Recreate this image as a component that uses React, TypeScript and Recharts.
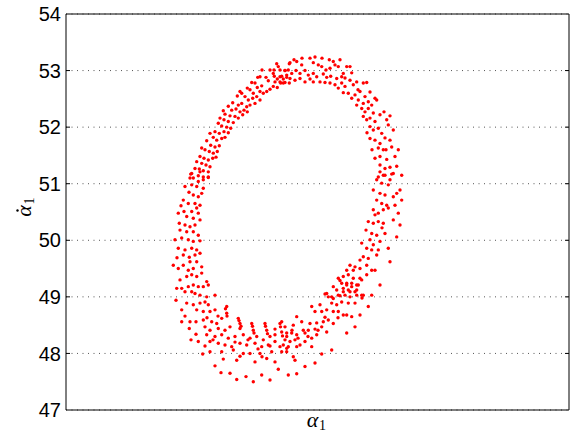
import React from 'react';
import { ScatterChart, Scatter, XAxis, YAxis, CartesianGrid, ReferenceArea, Label } from 'recharts';

const yTicks = [47, 48, 49, 50, 51, 52, 53, 54];
const xDomain: [number, number] = [0, 503];
const yDomain: [number, number] = [47, 54];

const topLeftArc: [number, number][] = [
  [210.7,53.12],[212.3,53.07],[223.3,53.12],[204,53.01],[208,53.01],[214,53.01],[219,53.00],[222.3,53.01],[194,52.89],[191.7,52.88],[200,52.88],[207.3,52.95],[208.3,52.90],[211.3,52.85],[214,52.89],[217.3,52.85],[220.7,52.88],[223.3,52.78],[219,52.79],[214.7,52.78],[209,52.80],[202.3,52.82],[185.7,52.79],[189,52.78],[181.3,52.69],[174,52.63],[175.7,52.60],[184,52.66],[187.3,52.60],[194,52.63],[197.3,52.60],[200.7,52.63],[204,52.67],[207.3,52.72],[211.3,52.70],[191.3,52.70],[195.7,52.73],[171.3,52.55],[179,52.54],[182.3,52.48],[186.7,52.51],[190.7,52.54],[194,52.48],[189,52.42],[184,52.39],[180.7,52.36],[175.7,52.42],[172.3,52.39],[166.7,52.43],[162.3,52.37],[165.7,52.30],[170,52.32],[174,52.27],[178,52.30],[181.3,52.27],[157.3,52.29],[159,52.23],[164,52.20],[169,52.19],[172.3,52.16],[176.7,52.22],[154,52.16],[158,52.13],[162.3,52.10],[167.3,52.08],[152.3,52.07],[155.7,52.02],[160.7,52.00],[164.7,51.98],[149,51.92],[153.3,51.89],[158,51.92],[162.3,51.90],[144,51.89],[147.3,51.82],[150.7,51.77],[155.7,51.80],[159,51.82],[140.7,51.76],[144.7,51.68],[149,51.65],[153.3,51.67],[135.7,51.63],[139,51.60],[143.3,51.57],[147.3,51.54],[151.3,51.57],[134,51.48],[138,51.45],[142.3,51.42],[146.7,51.45],[150,51.47],[130.7,51.39],[135.7,51.36],[140,51.33],[144,51.30],[129,51.27],[133.3,51.26],[137.3,51.23],[142.3,51.21],[124.7,51.17],[127.3,51.10],[132.3,51.14],[137.3,51.12],[142.3,51.11]
];

const topRightArc: [number, number][] = [
  [224,53.14],[228,53.19],[230.7,53.16],[235.7,53.10],[244,53.22],[249,53.24],[247.3,53.14],[252.3,53.10],[255.7,53.07],[263.3,53.19],[267.3,53.16],[269,53.10],[264,53.04],[272.3,53.07],[277.3,52.95],[280.7,53.07],[284,53.07],[285.7,52.96],[219,53.00],[215.7,52.90],[220.7,52.92],[225.7,52.95],[230,53.00],[234,52.95],[239,53.00],[242.3,52.92],[247.3,52.95],[250.7,52.89],[257.3,52.94],[260.7,52.88],[264.7,52.90],[270.7,52.86],[275.7,52.89],[224,52.86],[229,52.83],[234,52.86],[239,52.80],[244,52.85],[247.3,52.80],[254,52.80],[259,52.79],[264,52.78],[269,52.75],[272.3,52.69],[275.7,52.78],[279,52.72],[284,52.83],[287.3,52.75],[290.7,52.80],[297.3,52.78],[300.7,52.79],[214,52.80],[217.3,52.78],[277.3,52.61],[282.3,52.60],[285.7,52.51],[289,52.57],[292.3,52.48],[294,52.63],[299,52.54],[297.3,52.42],[302.3,52.45],[309,52.51],[310.7,52.48],[290.7,52.39],[295.7,52.33],[299,52.27],[302.3,52.33],[305.7,52.39],[307.3,52.25],[297.3,52.19],[300.7,52.13],[304,52.16],[309,52.10],[314,52.22],[318,52.27],[324,52.20],[320.7,52.13],[304,52.01],[307.3,51.95],[312.3,51.98],[315.7,51.89],[322.3,52.04],[327.3,51.95],[304,51.80],[309,51.77],[314,51.71],[312.3,51.63],[317.3,51.60],[324,51.77],[325.7,51.65],[332.3,51.60],[309,51.45],[314,51.48],[320.7,51.43],[329,51.48],[314,51.33],[319,51.27],[324,51.29],[330.7,51.31],[327.3,51.18],[312.3,51.12],[317.3,51.15]
];

const rightSide: [number, number][] = [
  [314,51.21],[319,51.15],[325.7,51.17],[335.7,51.15],[310.7,51.07],[315.7,51.01],[322.3,50.98],[307.3,50.89],[314,50.83],[319,50.80],[327.3,50.77],[334,50.89],[330.7,50.83],[310.7,50.71],[315.7,50.65],[320.7,50.62],[335.7,50.71],[307.3,50.54],[312.3,50.48],[317.3,50.54],[322.3,50.57],[332.3,50.48],[302.3,50.33],[307.3,50.30],[312.3,50.33],[317.3,50.30],[327.3,50.36],[334,50.27],[305.7,50.12],[310.7,50.09],[319,50.12],[330.7,50.06],[304,50.01],[307.3,49.92],[314,49.98],[295.7,49.95],[300.7,49.86],[305.7,49.83],[312.3,49.83],[322.3,49.86],[297.3,49.71],[302.3,49.68],[310.7,49.74],[294,49.65],[284,49.56],[289,49.53],[294,49.50],[300.7,49.56],[305.7,49.47],[309,49.47],[324,49.62],[287.3,49.47],[280.7,49.47],[277.3,49.36],[282.3,49.39],[287.3,49.33],[294,49.33],[300.7,49.39],[272.3,49.33],[275.7,49.24],[280.7,49.21],[285.7,49.24],[290.7,49.21],[314,49.21],[267.3,49.18],[270.7,49.12],[277.3,49.09],[284,49.09],[290.7,49.12],[260.7,49.06],[265.7,49.00],[274,49.02],[284,49.00],[295.7,49.03],[305.7,49.03]
];

const leftSide: [number, number][] = [
  [125.7,51.18],[134,51.21],[142.3,51.12],[137.3,51.07],[132.3,51.04],[124,51.10],[119,50.95],[125.7,50.98],[130.7,50.95],[137.3,50.92],[135.7,50.83],[127.3,50.80],[132.3,50.77],[117.3,50.71],[122.3,50.65],[129,50.65],[134,50.62],[130.7,50.57],[112.3,50.48],[118,50.51],[125.7,50.51],[132.3,50.48],[120.7,50.42],[127.3,50.39],[134,50.36],[113.3,50.30],[119,50.27],[124,50.24],[129,50.27],[120.7,50.15],[127.3,50.15],[132.3,50.09],[109,50.01],[115.7,50.04],[122.3,50.01],[127.3,49.98],[134,49.99],[112.3,49.86],[119,49.83],[125.7,49.86],[130.7,49.83],[117.3,49.74],[123.3,49.70],[129,49.74],[134,49.77],[107.3,49.56],[112.3,49.50],[117.3,49.56],[124,49.62],[130.7,49.62],[135.7,49.53],[127.3,49.50],[122.3,49.47],[114,49.30],[120.7,49.36],[125.7,49.39],[130.7,49.36],[135.7,49.42],[140.7,49.27],[110.7,49.15],[122.3,49.18],[127.3,49.21],[132.3,49.18],[137.3,49.18],[142.3,49.21],[129,49.06],[134,49.03],[140.7,49.00],[149,49.03]
];

const bottomLeftArc: [number, number][] = [
  [115.7,49.15],[125.7,49.09],[110,48.94],[120.7,48.89],[127.3,48.86],[134,48.89],[139,48.91],[142.3,48.86],[115.7,48.77],[130.7,48.77],[137.3,48.74],[144,48.74],[149,48.77],[160.7,48.83],[160.7,48.71],[115.7,48.56],[130,48.56],[137.3,48.59],[145.7,48.56],[150.7,48.53],[155.7,48.62],[172.3,48.62],[174,48.53],[123.3,48.44],[139,48.47],[144,48.41],[152.3,48.44],[159,48.41],[164,48.47],[174,48.44],[185.7,48.53],[187.3,48.41],[199,48.53],[200.7,48.41],[214,48.53],[215.7,48.38],[140.7,48.33],[149,48.30],[155.7,48.33],[162.3,48.27],[169,48.30],[177.3,48.33],[184,48.27],[190.7,48.30],[197.3,48.24],[204,48.30],[209,48.33],[220.7,48.30],[125,48.24],[132.3,48.21],[144,48.21],[152.3,48.18],[159,48.15],[165.7,48.12],[174,48.18],[180.7,48.15],[189,48.18],[195.7,48.12],[202.3,48.15],[209,48.21],[214,48.12],[220.7,48.09],[167.3,48.06],[177.3,48.00],[184,48.00],[194,48.00],[205.7,48.03],[220.7,48.03],[136.7,47.99],[144,48.03],[155.7,48.03],[157.3,47.90],[170.7,47.88],[189,47.85],[200.7,47.91],[209,47.85],[149,47.78],[212.3,47.72],[155,47.66],[164,47.65],[170.7,47.54],[180,47.59],[187.3,47.50],[195.7,47.62],[204,47.53],[222.3,47.62]
];

const bottomRightArc: [number, number][] = [
  [274,49.29],[280.7,49.24],[285.7,49.18],[292.3,49.21],[295.7,49.30],[277.3,49.15],[282.3,49.12],[289,49.09],[259,49.05],[262.3,49.00],[267.3,48.97],[272.3,49.03],[279,49.03],[290.7,49.03],[297.3,49.03],[265.7,48.89],[270.7,48.86],[275.7,48.91],[282.3,48.89],[302.3,48.83],[245.7,48.83],[249,48.74],[255.7,48.74],[260.7,48.77],[267.3,48.74],[272.3,48.74],[277.3,48.68],[280.7,48.68],[285.7,48.65],[294,48.68],[230.7,48.65],[235.7,48.56],[244,48.53],[250.7,48.54],[257.3,48.56],[262.3,48.59],[267.3,48.53],[289,48.47],[215.7,48.56],[219,48.47],[227.3,48.50],[237.3,48.41],[242.3,48.41],[249,48.43],[255.7,48.47],[260.7,48.38],[220.7,48.36],[225.7,48.36],[230.7,48.33],[239,48.36],[250.7,48.33],[280.7,48.36],[219,48.24],[224,48.21],[229,48.24],[239,48.21],[245.7,48.27],[217.3,48.15],[222.3,48.12],[230.7,48.12],[234,48.15],[215.7,48.03],[227.3,47.94],[245.7,48.12],[255.7,47.99],[265.7,48.06],[229,47.88],[239,47.77],[249,47.83],[230.7,47.64]
];

const fillPoints: [number, number][] = [
  [159.5,48.79],[161,48.66],[173,48.58],[175,48.48],[186.5,48.48],[188,48.36],[199.5,48.48],[201.5,48.35],[214.5,48.47],[216.5,48.31],[169,48.20],[182,48.24],[192,48.08],[204,48.13],[174,47.95],[196,47.94],[147,48.24],[139,48.13],[130,48.34],[119,48.66],[124,48.56],[152,48.66],[141,48.63],[209,48.43],[226,48.41],[232,48.27],[242,48.30],[252,48.41],[259,48.64],[272,48.63],[289,48.89],[296,48.98],[254,48.86],[300,50.18],[309,50.45],[316,50.22],[329,50.62],[324,51.07],[320,51.60],[306,51.60],[319,51.81],[301,51.90],[114,50.18],[111,49.69],[119,49.09],[115,50.61],[123,50.85],[196,53.01],[236,53.22],[256,53.22],[274,53.19],[260,53.01],[279,52.87],[292,52.66],[304,52.62]
];

const segments = [topLeftArc, topRightArc, rightSide, leftSide, bottomLeftArc, bottomRightArc, fillPoints];
const toPoints = (arr: [number, number][]) => arr.map(([x, y]) => ({ x, y }));

const W = 572;
const H = 434;
const M = { top: 14, right: 3, bottom: 0, left: 0 };
const YW = 66;
const XH = 24;
const PLOT_W = W - M.left - M.right - YW;
const PLOT_H = H - M.top - M.bottom - XH;
const SANS = "'Liberation Sans', Arial, Helvetica, sans-serif";
const SERIF = "'Liberation Serif', 'Times New Roman', serif";

const Dot = (props: any) => (
  <circle cx={props.cx} cy={props.cy} r={1.7} fill="#ff0000" />
);

const YTick = (props: any) => {
  const { x, y, payload } = props;
  const ax = x + 5;
  const inner = payload.value !== 47 && payload.value !== 54;
  return (
    <g>
      <text x={x} y={y} dy="0.36em" textAnchor="end" fontFamily={SANS} fontSize={20} fill="#000">
        {payload.value}
      </text>
      {inner && <line x1={ax} x2={ax + 4} y1={y} y2={y} stroke="#000" strokeWidth={1} />}
      {inner && <line x1={ax + PLOT_W - 4} x2={ax + PLOT_W} y1={y} y2={y} stroke="#000" strokeWidth={1} />}
    </g>
  );
};

const XLabel = () => {
  const cx = YW + PLOT_W / 2 - 5;
  return (
    <g>
      <text x={cx} y={427} textAnchor="middle" fontFamily={SERIF} fontStyle="italic" fontSize={22} fill="#000">α</text>
      <text x={cx + 6.5} y={430} textAnchor="start" fontFamily={SERIF} fontSize={14} fill="#000">1</text>
    </g>
  );
};

const YLabel = () => {
  const cx = 31;
  const cy = M.top + PLOT_H / 2 - 1;
  return (
    <g transform={`translate(${cx} ${cy}) rotate(-90)`}>
      <text x={0} y={0} textAnchor="middle" fontFamily={SERIF} fontStyle="italic" fontSize={22} fill="#000">α</text>
      <circle cx={0.5} cy={-13.5} r={1.2} fill="#000" />
      <text x={6.5} y={3} textAnchor="start" fontFamily={SERIF} fontSize={14} fill="#000">1</text>
    </g>
  );
};

export default function App() {
  return (
    <div style={{ position: 'absolute', left: 0, top: 0, width: W, height: H, background: '#fff' }}>
      <ScatterChart width={W} height={H} margin={M}>
        <CartesianGrid vertical={false} stroke="#555" strokeDasharray="1 4.5" />
        <XAxis
          type="number"
          dataKey="x"
          domain={xDomain}
          tick={false}
          tickLine={false}
          axisLine={false}
          height={XH}
        >
          <Label content={XLabel} />
        </XAxis>
        <YAxis
          type="number"
          dataKey="y"
          domain={yDomain}
          ticks={yTicks}
          interval={0}
          width={YW}
          tickLine={false}
          axisLine={false}
          tickSize={0}
          tickMargin={5}
          tick={<YTick />}
        >
          <Label content={YLabel} />
        </YAxis>
        {segments.map((seg, i) => (
          <Scatter key={i} data={toPoints(seg)} shape={Dot} isAnimationActive={false} />
        ))}
        <ReferenceArea x1={0} x2={503} y1={47} y2={54} fill="none" stroke="#000" strokeWidth={1} fillOpacity={0} />
      </ScatterChart>
    </div>
  );
}
